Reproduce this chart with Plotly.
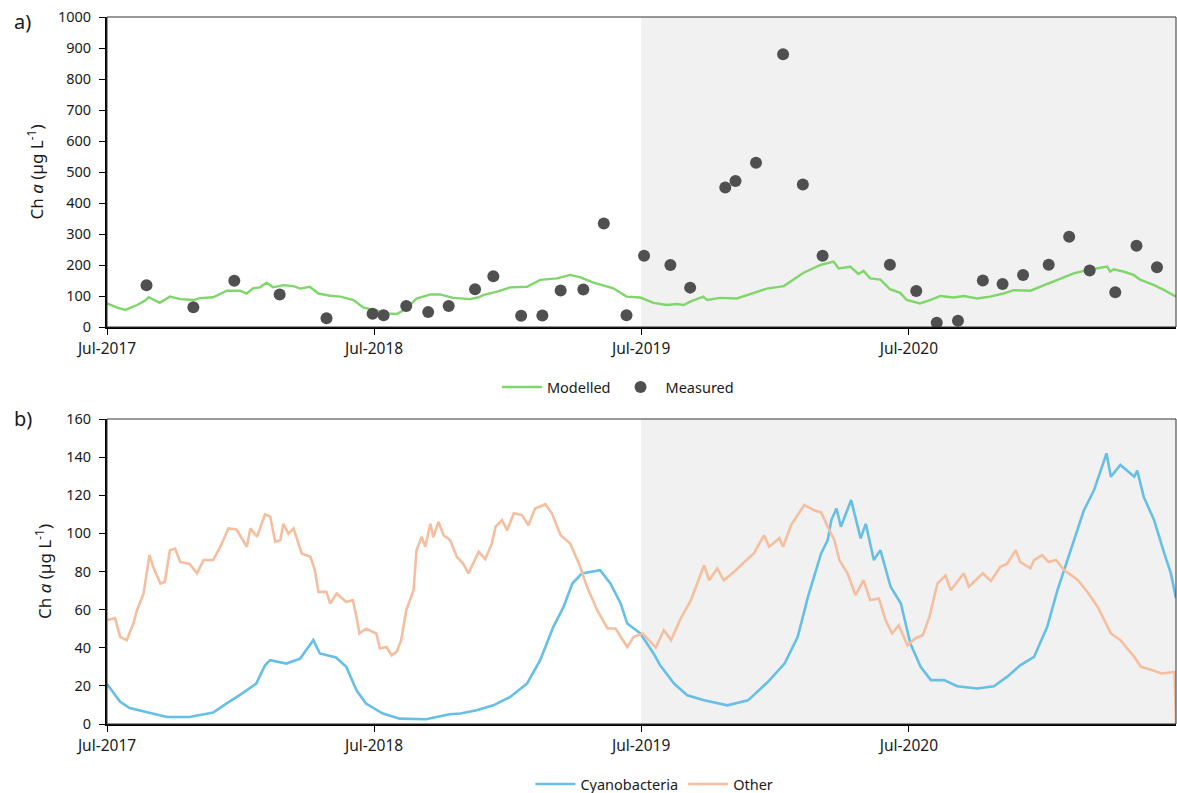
import pandas as pd
import plotly.graph_objects as go

# Start of the record; all x values below are day offsets from this date
START = pd.Timestamp("2017-07-01")
END = pd.Timestamp("2021-07-01")
PERIOD_SPLIT = pd.Timestamp("2019-07-01")

# ---- Panel a) total chlorophyll a ----
model_day = [0, 13, 25, 41, 52, 57, 72, 86, 100, 118, 127, 145, 164, 182, 191, 200, 209, 218, 227,
             241, 255, 264, 277, 289, 305, 319, 337, 350, 364, 382, 396, 410, 423, 442, 455, 473,
             496, 508, 514, 533, 551, 574, 592, 615, 633, 647, 665, 692, 710, 729, 747, 765, 779,
             788, 797, 815, 820, 838, 861, 879, 902, 925, 938, 952, 975, 993, 1000, 1016, 1027,
             1034, 1043, 1057, 1070, 1084, 1093, 1111, 1125, 1139, 1157, 1171, 1189, 1207, 1225,
             1239, 1262, 1285, 1303, 1321, 1340, 1354, 1367, 1371, 1376, 1389, 1403, 1412, 1431,
             1445, 1461]
model_chla = [76, 63, 55, 71, 85, 96, 78, 98, 90, 87, 93, 96, 117, 117, 108, 125, 128, 143, 128,
              135, 132, 124, 130, 108, 101, 98, 87, 63, 55, 44, 42, 60, 92, 105, 105, 94,
              90, 96, 103, 114, 128, 130, 152, 157, 168, 160, 143, 125, 98, 95, 78, 71, 74,
              71, 82, 98, 87, 94, 92, 106, 124, 132, 152, 175, 200, 211, 189, 194, 171,
              181, 157, 153, 122, 110, 87, 76, 87, 100, 95, 100, 92, 98, 108,
              119, 117, 139, 156, 173, 184, 190, 195, 179, 186, 179, 168, 153, 135,
              119, 98]

meas_date = ["2017-08-24", "2017-10-27", "2017-12-22", "2018-02-22", "2018-04-27", "2018-06-29",
             "2018-07-14", "2018-08-14", "2018-09-13", "2018-10-11", "2018-11-16", "2018-12-11",
             "2019-01-18", "2019-02-16", "2019-03-13", "2019-04-13", "2019-05-11", "2019-06-11",
             "2019-07-05", "2019-08-10", "2019-09-06", "2019-10-24", "2019-11-07", "2019-12-05",
             "2020-01-11", "2020-02-07", "2020-03-05", "2020-06-05", "2020-07-11", "2020-08-08",
             "2020-09-06", "2020-10-10", "2020-11-06", "2020-12-04", "2021-01-08", "2021-02-05",
             "2021-03-05", "2021-04-09", "2021-05-08", "2021-06-05"]
meas_chla = [135, 64, 149, 105, 28, 43,
             38, 68, 48, 68, 122, 164,
             36, 37, 118, 121, 334, 38,
             230, 200, 127, 450, 471, 530,
             880, 460, 230, 201, 116, 14,
             20, 150, 139, 168, 201, 291,
             182, 112, 262, 193]

# ---- Panel b) chlorophyll a by group ----
cyano_day = [0, 18, 31, 59, 82, 113, 145, 163, 186, 204, 216, 223, 245, 264, 282, 291, 313, 327,
             341, 354, 377, 400, 436, 468, 483, 505, 528, 551, 574, 592, 610, 624, 636, 649, 674,
             688, 702, 711, 729, 747, 756, 775, 793, 816, 848, 876, 903, 926, 944, 958, 976, 985,
             990, 997, 1003, 1017, 1030, 1037, 1048, 1057, 1071, 1085, 1098, 1112, 1126, 1144,
             1162, 1189, 1212, 1230, 1248, 1267, 1285, 1299, 1317, 1335, 1349, 1366, 1372, 1385,
             1404, 1408, 1417, 1431, 1445, 1454, 1461]
cyano_chla = [21, 11.6, 8.4, 6.0, 3.7, 3.7, 6.0, 10.7, 16.3, 21.2, 30.8, 33.5, 31.7, 34.3, 44, 37,
              34.9, 30, 17.7, 10.7, 5.5, 2.8, 2.5, 5.1, 5.5, 7.2, 9.8, 14.2, 21.2, 33.5, 51, 61.4,
              73.7, 79, 80.7, 73.7, 63.2, 52.7, 47.5, 37, 30.8, 21.2, 15.1, 12.4, 9.8, 12.4, 22,
              31.7, 45.7, 66.7, 89.5, 96.5, 107, 113, 103.5, 117.5, 97.4, 105, 86, 91.2, 72, 63.2,
              42.2, 30, 23, 23, 19.8, 18.6, 19.8, 24.7, 30.8, 35.2, 51, 70.2, 91.2, 112, 122.7,
              142, 129.7, 135.9, 129.7, 133, 119, 107, 89.5, 79, 66]

other_day = [1, 11, 18, 27, 36, 41, 50, 58, 63, 73, 79, 86, 93, 100, 113, 123, 132, 145, 155, 166,
             177, 191, 196, 205, 216, 223, 230, 237, 241, 248, 255, 266, 278, 284, 289, 300, 305,
             314, 327, 336, 341, 345, 354, 368, 373, 382, 389, 396, 402, 409, 419, 423, 430, 435,
             442, 446, 453, 460, 469, 478, 487, 494, 508, 517, 526, 531, 540, 547, 556, 567, 576,
             585, 599, 608, 620, 633, 645, 656, 670, 684, 695, 711, 720, 732, 750, 761, 771, 784,
             798, 807, 816, 823, 834, 843, 857, 871, 884, 898, 905, 919, 924, 935, 953, 967, 976,
             985, 994, 1001, 1012, 1023, 1034, 1043, 1055, 1064, 1073, 1082, 1094, 1105, 1115,
             1124, 1135, 1146, 1153, 1171, 1178, 1197, 1208, 1221, 1230, 1242, 1248, 1262, 1267,
             1278, 1287, 1297, 1308, 1327, 1340, 1354, 1372, 1385, 1404, 1413, 1427, 1441, 1459,
             1461]
other_chla = [54.5, 55.5, 45.7, 44, 52.7, 59.7, 68.5, 88.6, 82.5, 73.7, 74.5, 91.2, 92, 85, 84, 79,
              86, 86, 93, 102.6, 102, 93, 102.6, 98.2, 110, 108.8, 95.6, 96.5, 105, 99.8, 102.6,
              89.5, 87.7, 80.7, 69.3, 69.3, 63.2, 68.5, 64, 65, 56.2, 47.5, 50, 47.5, 39.6, 40.4,
              36, 38, 44, 59.7, 70.2, 91.2, 98.2, 93, 105, 98, 106, 99, 96.5, 87.7, 84, 79, 90.3,
              86.5, 94.7, 103.5, 106.9, 101.6, 110.5, 109.6, 104.3, 113, 115.3, 110.5, 99, 94.7,
              84.2, 72, 59.7, 50.1, 50.1, 40.4, 45.7, 47.5, 40.1, 49.2, 44, 55.3, 65, 73.7, 83.3,
              75.4, 81.6, 75.4, 79.8, 85, 89.5, 99, 93, 97.5, 93, 104.4, 114.9, 112, 111, 103.5,
              96.5, 86, 79, 67.6, 75.5, 65, 65.8, 54.5, 47.5, 51.8, 41.3, 45, 46.6, 56.2, 73.7,
              78, 70.2, 79, 72, 79, 75, 82.5, 84, 91.2, 85, 81.6, 86, 88.6, 85, 86, 80.7, 75.5,
              69.3, 61.4, 47.5, 44, 35.2, 30, 28.5, 26.5, 27.3, 0]

x_tick_dates = ["2017-07-01", "2018-07-01", "2019-07-01", "2020-07-01"]
x_tick_text = ["Jul-2017", "Jul-2018", "Jul-2019", "Jul-2020"]
ya_ticks = [0, 100, 200, 300, 400, 500, 600, 700, 800, 900, 1000]
yb_ticks = [0, 20, 40, 60, 80, 100, 120, 140, 160]


def to_dates(days):
    return START + pd.to_timedelta(days, unit="D")


GREEN = "#7fd66b"
DOT = "#505050"
BLUE = "#65bfe6"
ORANGE = "#f5bf9f"
FONT = "Noto Sans"
TXT = "#1a1a1a"

fig = go.Figure()

fig.add_trace(go.Scatter(x=to_dates(model_day), y=model_chla, mode="lines", name="Modelled",
                         line=dict(color=GREEN, width=2.4), xaxis="x", yaxis="y", legend="legend"))
fig.add_trace(go.Scatter(x=pd.to_datetime(meas_date), y=meas_chla, mode="markers", name="Measured",
                         marker=dict(color=DOT, size=12), xaxis="x", yaxis="y", legend="legend"))
fig.add_trace(go.Scatter(x=to_dates(cyano_day), y=cyano_chla, mode="lines", name="Cyanobacteria",
                         line=dict(color=BLUE, width=2.6), xaxis="x2", yaxis="y2", legend="legend2"))
fig.add_trace(go.Scatter(x=to_dates(other_day), y=other_chla, mode="lines", name="Other",
                         line=dict(color=ORANGE, width=2.6), xaxis="x2", yaxis="y2", legend="legend2"))

W, H = 1177, 793
x_dom = [107 / W, 1176 / W]
ya_dom = [(H - 327) / H, (H - 17) / H]
yb_dom = [(H - 724) / H, (H - 419) / H]

xaxis_common = dict(
    type="date", range=[START, END], tickvals=pd.to_datetime(x_tick_dates), ticktext=x_tick_text,
    showgrid=False, zeroline=False, showline=True, linecolor="black", linewidth=2,
    ticks="outside", ticklen=6, tickwidth=1, tickcolor="black", automargin=False,
    tickfont=dict(family=FONT, size=15.5, color=TXT), domain=x_dom,
)
yaxis_common = dict(
    showgrid=False, zeroline=False, showline=True, linecolor="black", linewidth=2,
    ticks="outside", ticklen=6, tickwidth=1, tickcolor="black", automargin=False,
    ticklabelstandoff=5,
    tickfont=dict(family=FONT, size=14.5, color=TXT),
    title=dict(text="Ch <i>a</i> (µg L<sup>-1</sup>)", font=dict(family=FONT, size=17, color=TXT),
               standoff=10),
)

shapes = []
for xr, yr in (("x", "y"), ("x2", "y2")):
    # shaded later period
    shapes.append(dict(type="rect", xref=xr, yref=f"{yr} domain", x0=PERIOD_SPLIT, x1=END, y0=0, y1=1,
                       fillcolor="#f1f1f1", line=dict(width=0), layer="below"))
    # plot-area frame
    shapes.append(dict(type="rect", xref=f"{xr} domain", yref=f"{yr} domain", x0=0, x1=1, y0=0, y1=1,
                       line=dict(color="#333333", width=1), fillcolor="rgba(0,0,0,0)", layer="above"))

fig.update_layout(
    width=W, height=H, margin=dict(l=0, r=0, t=0, b=0, autoexpand=False),
    paper_bgcolor="white", plot_bgcolor="white",
    font=dict(family=FONT, color=TXT),
    xaxis=dict(**xaxis_common, anchor="y"),
    yaxis=dict(**yaxis_common, domain=ya_dom, range=[0, 1000], tickvals=ya_ticks, anchor="x"),
    xaxis2=dict(**xaxis_common, anchor="y2"),
    yaxis2=dict(**yaxis_common, domain=yb_dom, range=[0, 160], tickvals=yb_ticks, anchor="x2"),
    shapes=shapes,
    legend=dict(orientation="h", x=0.525, xanchor="center", y=(H - 387) / H, yanchor="middle",
                font=dict(family=FONT, size=14.5, color=TXT), bgcolor="rgba(0,0,0,0)",
                itemwidth=40, tracegroupgap=0),
    legend2=dict(orientation="h", x=0.556, xanchor="center", y=(H - 784) / H, yanchor="middle",
                 font=dict(family=FONT, size=14.5, color=TXT), bgcolor="rgba(0,0,0,0)",
                 itemwidth=40, tracegroupgap=0),
    annotations=[
        dict(text="a)", x=12 / W, y=(H - 6) / H, xref="paper", yref="paper", xanchor="left",
             yanchor="top", showarrow=False, font=dict(family=FONT, size=20, color=TXT)),
        dict(text="b)", x=12 / W, y=(H - 403) / H, xref="paper", yref="paper", xanchor="left",
             yanchor="top", showarrow=False, font=dict(family=FONT, size=20, color=TXT)),
    ],
)

fig.write_html("out.html")
